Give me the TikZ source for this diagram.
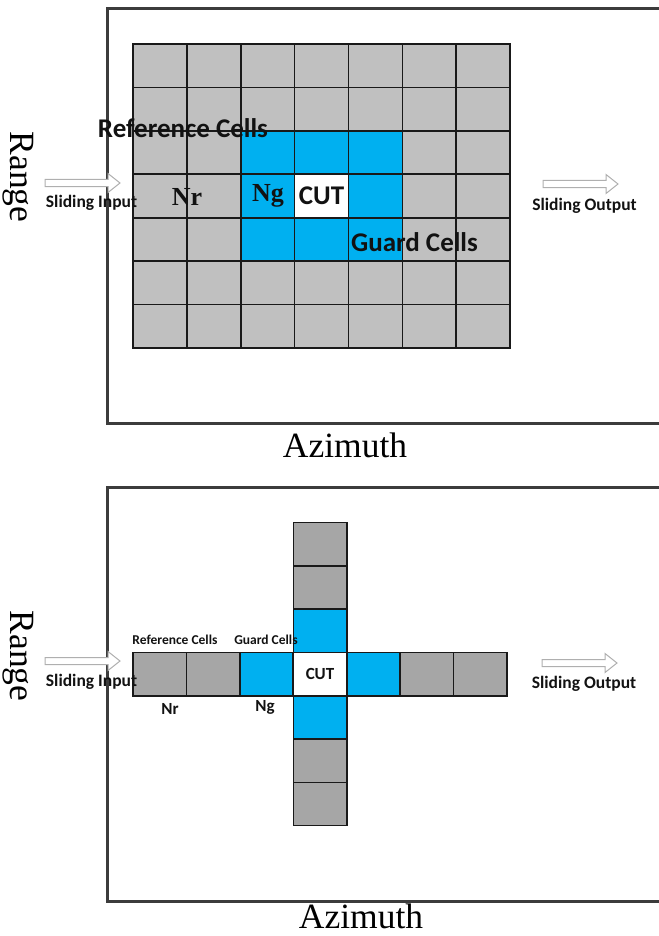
\documentclass[tikz,border=0pt]{standalone}
\usepackage{fontspec}
\setmainfont{Liberation Serif}
\newfontfamily\lblfont{Carlito}
\definecolor{cellgrayA}{RGB}{192,192,192}
\definecolor{cellgrayB}{RGB}{166,166,166}
\definecolor{guardblue}{RGB}{0,176,240}
\definecolor{framegray}{RGB}{60,60,60}
\definecolor{arrowgray}{RGB}{175,175,175}
\definecolor{inkgray}{RGB}{18,18,18}

\begin{document}
\begin{tikzpicture}[x=1pt,y=-1pt,
  frame/.style={draw=framegray, line width=3pt},
  topcell/.style={draw=black!90, line width=1.6pt, minimum width=53.86pt,
    minimum height=43.43pt, inner sep=0pt, outer sep=0pt, anchor=north west},
  lowcell/.style={draw=black!90, line width=1.6pt, minimum width=53.43pt,
    minimum height=43.3pt, inner sep=0pt, outer sep=0pt, anchor=north west},
  bigsans/.style={font=\lblfont\bfseries\fontsize{27}{29}\selectfont, text=inkgray, inner sep=0pt},
  smallsans/.style={font=\lblfont\bfseries\fontsize{13.5}{15}\selectfont, text=inkgray, inner sep=0pt},
  midsans/.style={font=\lblfont\bfseries\fontsize{17}{19}\selectfont, text=inkgray, inner sep=0pt},
  slidelbl/.style={font=\lblfont\bfseries\fontsize{17.5}{19}\selectfont, text=inkgray, inner sep=0pt},
  serifbold/.style={font=\bfseries\fontsize{26}{28}\selectfont, text=inkgray, inner sep=0pt},
  axislbl/.style={font=\fontsize{35.5}{37}\selectfont, text=black, inner sep=0pt},
  slidearrow/.pic={\draw[arrowgray, line width=1pt, fill=white]
    (0,-3.5) -- (63,-3.5) -- (63,-9.5) -- (75,0) -- (63,9.5) -- (63,3.5) -- (0,3.5) -- cycle;}
]
\useasboundingbox (0,0) rectangle (658,936);

% ---------------- upper panel: full 7x7 window ----------------
\draw[frame] (107,9) rectangle (662,423);
\foreach \r in {0,...,6}{
  \foreach \c in {0,...,6}{
    \def\fillc{cellgrayA}
    \ifnum\r>1 \ifnum\r<5 \ifnum\c>1 \ifnum\c<5 \def\fillc{guardblue}\fi\fi\fi\fi
    \ifnum\r=3 \ifnum\c=3 \def\fillc{white}\fi\fi
    \node[topcell, fill=\fillc] (t-\r-\c) at ({133+\c*53.86},{44+\r*43.43}) {};
  }
}
\node[bigsans] (refT) at (183,128) {Reference Cells};
\node[bigsans] (guardT) at (414.5,242) {Guard Cells};
\node[bigsans] (cutT) at (t-3-3.center) {CUT};
\node[serifbold] (nrT) at (187,197) {Nr};
\node[serifbold] (ngT) at (268,196) {Ng};

\pic (inArrT) at (45,183) {slidearrow};
\pic (outArrT) at (543,184) {slidearrow};
\node[slidelbl] (inT) at (91.5,203) {Sliding Input};
\node[slidelbl] (outT) at (584.5,206) {Sliding Output};

\node[axislbl, rotate=-90] (rangeT) at (18,177) {Range};
\node[axislbl, anchor=base] (azT) at (345,457) {Azimuth};

% ---------------- lower panel: cross-shaped window ----------------
\draw[frame] (107,487) rectangle (662,901);
\foreach \c in {0,...,6}{
  \def\fillc{cellgrayB}
  \ifnum\c=2 \def\fillc{guardblue}\fi
  \ifnum\c=4 \def\fillc{guardblue}\fi
  \ifnum\c=3 \def\fillc{white}\fi
  \node[lowcell, fill=\fillc] (h-\c) at ({133+\c*53.43},652.4) {};
}
\foreach \r in {0,1,2,4,5,6}{
  \def\fillc{cellgrayB}
  \ifnum\r=2 \def\fillc{guardblue}\fi
  \ifnum\r=4 \def\fillc{guardblue}\fi
  \node[lowcell, fill=\fillc] (v-\r) at (293.3,{522.5+\r*43.3}) {};
}
\node[midsans] (cutB) at (h-3.center) {CUT};
\node[smallsans] (refB) at (175,640) {Reference Cells};
\node[smallsans] (guardB) at (266,640) {Guard Cells};
\node[midsans] (nrB) at (170,709) {Nr};
\node[midsans] (ngB) at (265,707) {Ng};

\pic (inArrB) at (45,661) {slidearrow};
\pic (outArrB) at (542,663) {slidearrow};
\node[slidelbl] (inB) at (91.5,682) {Sliding Input};
\node[slidelbl] (outB) at (584,684) {Sliding Output};

\node[axislbl, rotate=-90] (rangeB) at (18,656) {Range};
\node[axislbl, anchor=base] (azB) at (361,928.5) {Azimuth};
\end{tikzpicture}
\end{document}
